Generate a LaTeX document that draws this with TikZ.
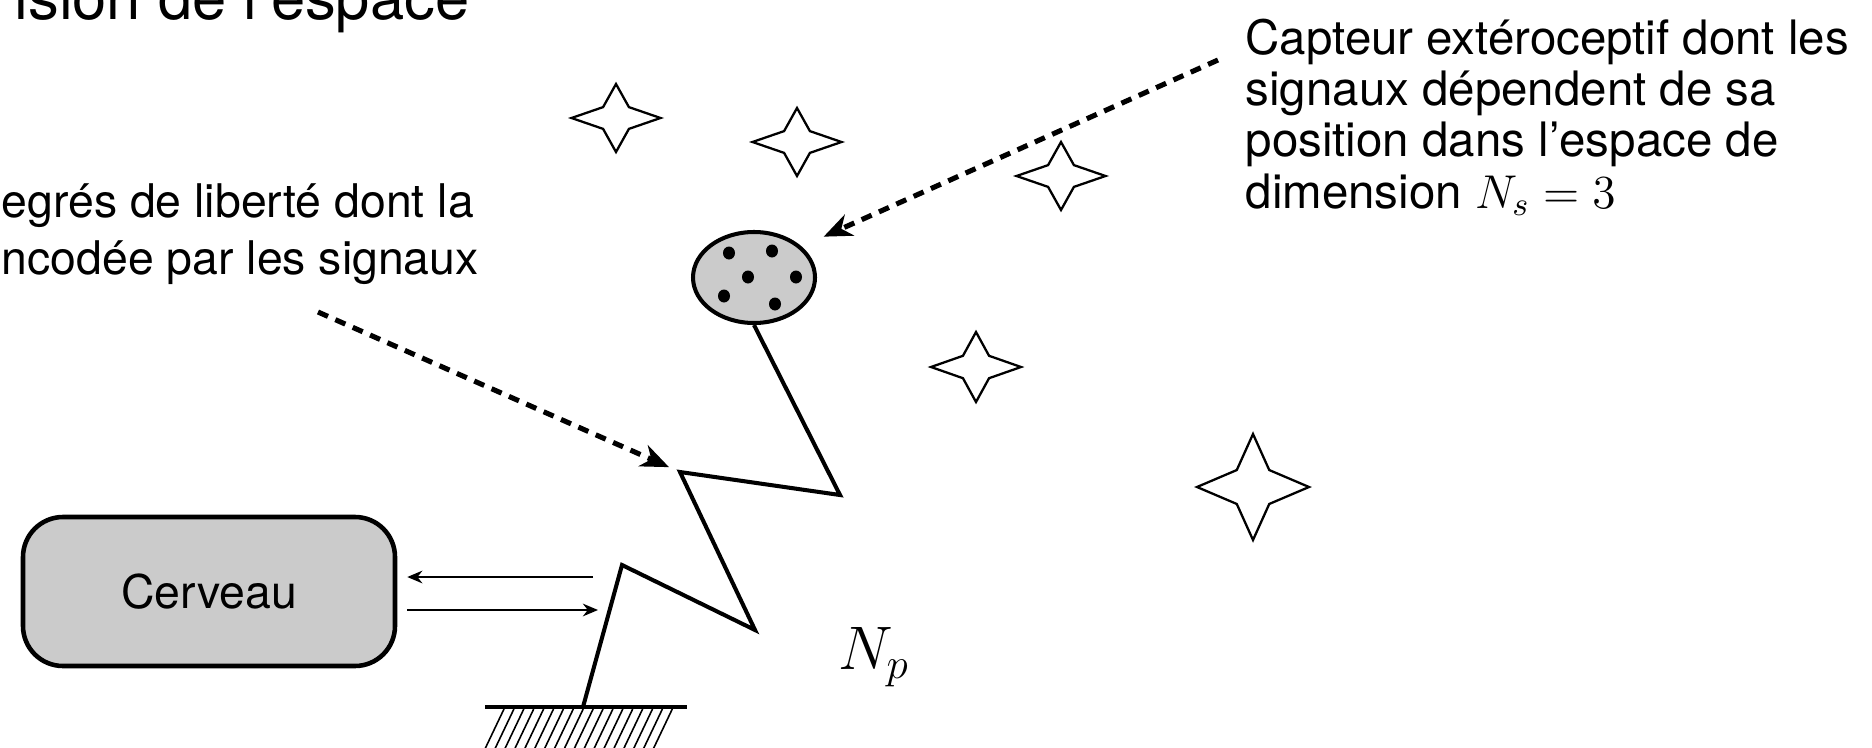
\RequirePackage{fix-cm}
\documentclass[tikz,border=0pt]{standalone}
\usepackage{fontspec}
\setmainfont{TeX Gyre Heros}
\usepackage{tikz}
\usetikzlibrary{positioning,shapes.geometric,arrows.meta}
\definecolor{encre}   {HTML}{000000}
\definecolor{grisfond}{HTML}{CBCBCB}
\newcommand\policecorps{\fontsize{13.2}{16.2}\selectfont}
\newcommand\policecapt{\fontsize{13.5}{14.6}\selectfont}
\newcommand\policetitre{\fontsize{17.5}{21}\selectfont}
\tikzset{
  % --- noeuds
  boite/.style     = {draw=encre, line width=1.3pt, fill=grisfond, rounded corners=4mm,
                      minimum width=37.2mm, minimum height=14.9mm, inner sep=0pt,
                      font=\policecorps},
  capteurst/.style = {ellipse, draw=encre, line width=1.15pt, fill=grisfond,
                      minimum width=12.2mm, minimum height=9.1mm, inner sep=0pt},
  texte/.style     = {align=left, inner sep=0pt, text=encre},
  % --- traits
  segment/.style   = {draw=encre, line width=1.15pt, line join=miter},
  fleche/.style    = {-{Stealth[length=4.3pt,width=3.6pt]}, line width=0.6pt},
  pointille/.style = {-{Stealth[length=8pt,width=6.5pt,inset=2.5pt]}, line width=1.45pt,
                      dash pattern=on 3.1pt off 2.3pt},
  etoile/.style    = {draw=encre, line width=0.65pt, line join=miter},
  hachure/.style   = {draw=encre, line width=0.45pt},
}
\begin{document}
\begin{tikzpicture}[x=0.1mm,y=-0.1mm]
  \useasboundingbox (0,0) rectangle (1872,747);
  \clip (0,0) rectangle (1872,747);
  % textes
  \node[texte, anchor=base east, font=\policetitre] (titre) at (470,20) {ision de l’espace};
  \node[texte, anchor=north west, font=\policecorps] (ddl) at (1,183)
    {egrés de liberté dont la\\ncodée par les signaux};
  \node[texte, anchor=north west, font=\policecapt] (legende) at (1245,18)
    {Capteur extéroceptif dont les\\signaux dépendent de sa\\position dans l’espace de\\dimension $N_s = 3$};
  % cerveau et capteur
  \node[boite] (cerveau) at (209,591.5) {Cerveau};
  \node[capteurst] (capteur) at (754,277.5) {};
  \foreach \px/\py in {729/253, 772/251, 748/277, 796/277, 724/296, 775/304}
    \fill[encre] (\px,\py) ellipse [x radius=0.6mm, y radius=0.65mm];
  % bras articule
  \coordinate (j0) at (583,707);
  \coordinate (j1) at (622,565);
  \coordinate (j2) at (755,630);
  \coordinate (j3) at (680,472);
  \coordinate (j4) at (840,495);
  \draw[segment] (j0) -- (j1) -- (j2) -- (j3) -- (j4) -- (capteur.south);
  \node[anchor=base, font=\policetitre] (np) at (874,669) {$N_p$};
  % sol
  \draw[encre, line width=1.2pt] (485,707) -- (687,707);
  \foreach \i in {0,...,17}
    \draw[hachure] (504+\i*9.9,709) -- ++(-20,42);
  % signaux
  \coordinate (sortie) at (593,577);
  \coordinate (entree) at (598,610);
  \draw[fleche, shorten >=1mm] (sortie) -- (sortie -| cerveau.east);
  \draw[fleche, shorten <=1mm] (entree -| cerveau.east) -- (entree);
  % renvois
  \coordinate (depart1) at (318,312);
  \coordinate (depart2) at (1218,60);
  \draw[pointille, shorten >=1.2mm] (depart1) -- (j3);
  \draw[pointille, shorten >=2.4mm] (depart2) -- (capteur.33);
  % etoiles
  \foreach \sx/\sy/\sw/\sh in {616/118/44.5/34, 797/142/44.5/34, 1061/176/44.5/34,
                               976/367/45/35, 1253/487/56/53}
    \draw[etoile] (\sx,\sy-\sh) -- (\sx+0.29*\sw,\sy-0.32*\sh) -- (\sx+\sw,\sy)
      -- (\sx+0.29*\sw,\sy+0.32*\sh) -- (\sx,\sy+\sh) -- (\sx-0.29*\sw,\sy+0.32*\sh)
      -- (\sx-\sw,\sy) -- (\sx-0.29*\sw,\sy-0.32*\sh) -- cycle;
\end{tikzpicture}
\end{document}
